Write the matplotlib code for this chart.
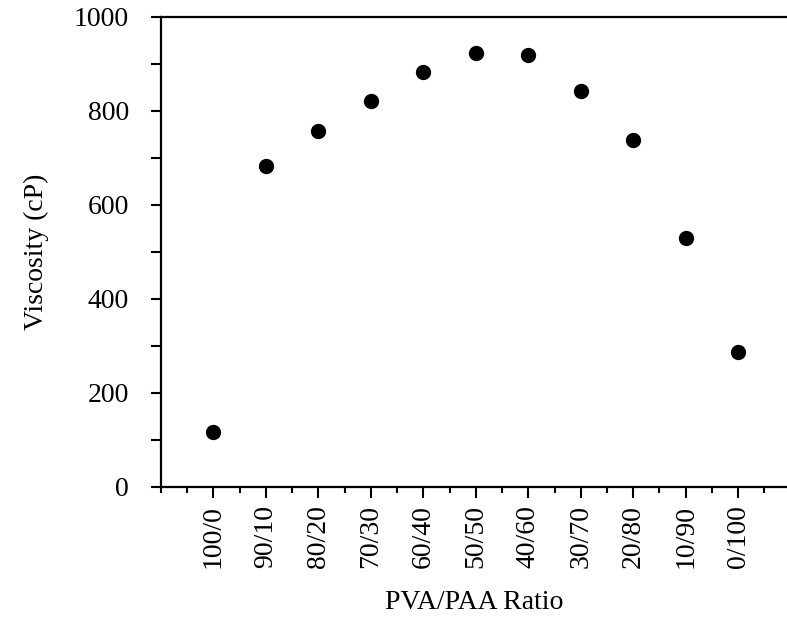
import numpy as np
import matplotlib.pyplot as plt
from matplotlib.ticker import MultipleLocator

plt.rcParams['font.family'] = ['Liberation Serif', 'DejaVu Serif']

ratios = ['100/0', '90/10', '80/20', '70/30', '60/40', '50/50',
          '40/60', '30/70', '20/80', '10/90', '0/100']
viscosity = [117, 684, 757, 821, 883, 923, 919, 842, 738, 529, 288]

x = np.arange(len(ratios))

fig = plt.figure(figsize=(7.87, 6.34), dpi=100)
ax = fig.add_axes([0.2046, 0.2319, 0.7954, 0.7413])

ax.plot(x, viscosity, 'o', color='black', ms=10, clip_on=False)

ax.set_xlim(-1, 10.93)
ax.set_ylim(0, 1000)

ax.set_xticks(x)
ax.set_xticklabels(ratios, rotation=90, fontsize=20)
ax.xaxis.set_minor_locator(MultipleLocator(0.5))
ax.yaxis.set_major_locator(MultipleLocator(200))
ax.yaxis.set_minor_locator(MultipleLocator(100))
ax.tick_params(axis='y', labelsize=20, pad=16)
ax.tick_params(axis='both', which='both', direction='out', width=1.5, color='black')
ax.tick_params(axis='y', which='both', length=7)
ax.tick_params(axis='x', which='major', length=8, pad=5)
ax.tick_params(axis='x', which='minor', length=4)

for side in ['left', 'top', 'bottom']:
    ax.spines[side].set_linewidth(1.6)
ax.spines['right'].set_visible(False)

ax.set_xlabel('PVA/PAA Ratio', fontsize=20, labelpad=16)
ax.set_ylabel('Viscosity (cP)', fontsize=20, labelpad=18)

fig.savefig('out.png', dpi=100)
